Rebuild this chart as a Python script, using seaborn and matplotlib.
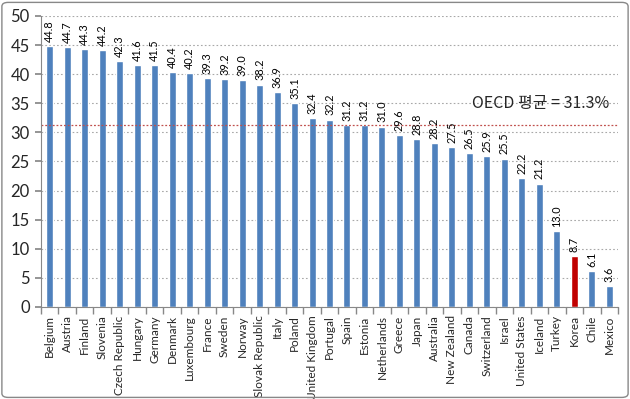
import numpy as np
import pandas as pd
import matplotlib
matplotlib.use("Agg")
import matplotlib.pyplot as plt
import seaborn as sns
from matplotlib.patches import FancyBboxPatch

countries = ["Belgium", "Austria", "Finland", "Slovenia", "Czech Republic", "Hungary",
             "Germany", "Denmark", "Luxembourg", "France", "Sweden", "Norway",
             "Slovak Republic", "Italy", "Poland", "United Kingdom", "Portugal", "Spain",
             "Estonia", "Netherlands", "Greece", "Japan", "Australia", "New Zealand",
             "Canada", "Switzerland", "Israel", "United States", "Iceland", "Turkey",
             "Korea", "Chile", "Mexico"]
values = [44.8, 44.7, 44.3, 44.2, 42.3, 41.6, 41.5, 40.4, 40.2, 39.3, 39.2, 39.0,
          38.2, 36.9, 35.1, 32.4, 32.2, 31.2, 31.2, 31.0, 29.6, 28.8, 28.2, 27.5,
          26.5, 25.9, 25.5, 22.2, 21.2, 13.0, 8.7, 6.1, 3.6]
oecd_avg = 31.3
oecd_label = "OECD 평균 = 31.3%"
yticks = [0, 5, 10, 15, 20, 25, 30, 35, 40, 45, 50]

sns.set_theme(style="white")
plt.rcParams['font.family'] = ['Lato', 'Noto Sans CJK KR', 'DejaVu Sans']

df = pd.DataFrame({"country": countries, "value": values})
palette = ["#C00000" if c == "Korea" else "#4F81BD" for c in countries]

fig = plt.figure(figsize=(6.3, 3.99), dpi=100)
ax = fig.add_axes([0.065, 0.2306, 0.916, 0.7294])

sns.barplot(data=df, x="country", y="value", hue="country", palette=palette,
            legend=False, width=0.4, ax=ax, saturation=1)

for cont in ax.containers:
    ax.bar_label(cont, fmt="%.1f", rotation=90, padding=3, fontsize=7.8,
                 color="#000000")

ax.set_ylim(0, 50)
ax.set_xlim(-0.5, len(countries) - 0.5)
ax.set_yticks(yticks)
ax.set_yticklabels([str(t) for t in yticks], fontsize=12)
ax.yaxis.grid(True, linestyle=(0, (1.5, 2)), color="#A8A8A8", linewidth=0.8)
ax.set_axisbelow(True)

ax.set_xticks(range(len(countries)))
ax.set_xticklabels(countries, rotation=90, fontsize=8.5)
ax.set_xticks(np.arange(-0.5, len(countries)), minor=True)
ax.tick_params(axis="x", which="major", length=0, pad=6)
ax.tick_params(axis="x", which="minor", length=5, color="#888888", direction="out", bottom=True)
ax.tick_params(axis="y", length=4, color="#888888", direction="out", left=True, pad=4)
ax.set_xlabel("")
ax.set_ylabel("")

for s in ["top", "right"]:
    ax.spines[s].set_visible(False)
for s in ["left", "bottom"]:
    ax.spines[s].set_color("#888888")
    ax.spines[s].set_linewidth(0.8)

ax.axhline(oecd_avg, color="#C0504D", linestyle=(0, (1.5, 1.5)), linewidth=0.9)
ax.text(len(countries) - 1.0, oecd_avg + 2.2, oecd_label, ha="right", va="bottom",
        fontsize=11.5, family=['Noto Sans CJK KR', 'DejaVu Sans'])

border = FancyBboxPatch((0.003, 0.004), 0.994, 0.99, boxstyle="round,pad=0,rounding_size=0.01",
                        transform=fig.transFigure, fill=False, edgecolor="#888888", linewidth=1)
fig.patches.append(border)

fig.savefig("out.png", dpi=100)
